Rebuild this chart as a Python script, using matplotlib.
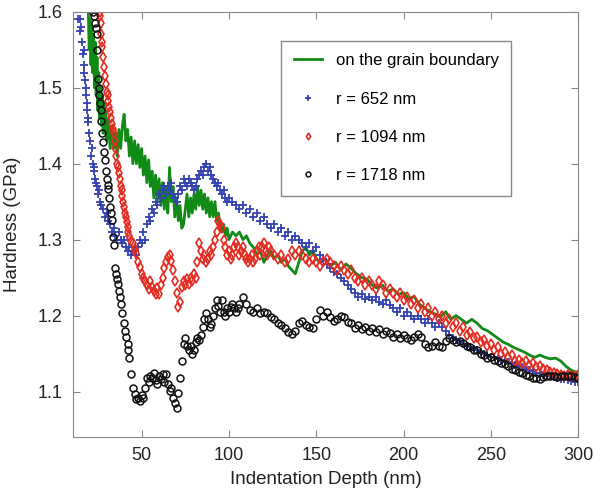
import matplotlib
matplotlib.use("Agg")
import matplotlib.pyplot as plt

plt.rcParams['font.family'] = ['Liberation Sans', 'DejaVu Sans']

# on the grain boundary (green line)
gb_depth = [19.5, 20.0, 20.5, 21.0, 21.5, 22.0, 22.5, 23.0, 23.5, 24.0, 24.5, 25.0, 25.5, 26.0, 26.5,
            27.0, 27.5, 28.0, 28.5, 29.0, 29.5, 30.0, 31.0, 32.0, 33.0, 34.0, 35.0, 36.0, 37.0, 38.0,
            39.0, 40.0, 41.0, 42.0, 43.0, 44.0, 45.0, 46.0, 47.0, 48.0, 49.0, 50.0, 51.0, 52.0, 53.0,
            54.0, 55.0, 56.0, 57.0, 58.0, 59.0, 60.0, 61.0, 62.0, 63.0, 64.0, 65.0, 66.0, 67.0, 68.0,
            69.0, 70.0, 71.0, 72.0, 73.0, 74.0, 75.0, 76.0, 77.0, 78.0, 79.0, 80.0, 81.0, 82.0, 83.0,
            84.0, 85.0, 86.0, 87.0, 88.0, 89.0, 90.0, 91.0, 92.0, 93.0, 94.0, 95.0, 96.0, 97.0, 98.0,
            99.0, 100, 102, 104, 106, 108, 110, 112, 114, 116, 118, 120, 122, 124, 126, 128, 130, 132,
            134, 136, 138, 140, 142, 144, 146, 148, 150, 152, 155, 158, 161, 164, 167, 170, 173, 176,
            179, 182, 185, 188, 191, 194, 197, 200, 203, 206, 209, 212, 215, 218, 221, 224, 227, 230,
            233, 236, 239, 242, 245, 248, 251, 254, 257, 260, 263, 266, 269, 272, 275, 278, 281, 284,
            287, 290, 293, 296, 299]
gb_hard = [1.60, 1.55, 1.59, 1.53, 1.58, 1.52, 1.57, 1.50, 1.56, 1.49, 1.54, 1.47, 1.52, 1.46, 1.50,
           1.45, 1.49, 1.44, 1.48, 1.44, 1.47, 1.43, 1.46, 1.42, 1.45, 1.42, 1.44, 1.41, 1.445, 1.42,
           1.45, 1.465, 1.43, 1.445, 1.41, 1.435, 1.40, 1.43, 1.40, 1.425, 1.395, 1.42, 1.385, 1.41, 1.375,
           1.405, 1.37, 1.39, 1.355, 1.385, 1.35, 1.38, 1.345, 1.375, 1.34, 1.37, 1.335, 1.395, 1.35, 1.37,
           1.33, 1.355, 1.325, 1.345, 1.315, 1.32, 1.34, 1.36, 1.33, 1.355, 1.335, 1.36, 1.34, 1.37, 1.345,
           1.365, 1.34, 1.36, 1.335, 1.355, 1.33, 1.35, 1.33, 1.35, 1.325, 1.335, 1.315, 1.31, 1.32, 1.305,
           1.315, 1.30, 1.31, 1.305, 1.31, 1.30, 1.305, 1.295, 1.29, 1.28, 1.285, 1.27, 1.28, 1.285, 1.275,
           1.28, 1.27, 1.275, 1.265, 1.26, 1.255, 1.27, 1.285, 1.29, 1.28, 1.285, 1.275, 1.27, 1.275, 1.265,
           1.27, 1.26, 1.268, 1.262, 1.255, 1.25, 1.248, 1.24, 1.236, 1.24, 1.232, 1.235, 1.228, 1.23, 1.222,
           1.225, 1.215, 1.21, 1.205, 1.202, 1.198, 1.205, 1.195, 1.20, 1.195, 1.19, 1.195, 1.19, 1.183,
           1.18, 1.175, 1.17, 1.165, 1.162, 1.158, 1.155, 1.152, 1.148, 1.145, 1.148, 1.145, 1.143, 1.144,
           1.14, 1.133, 1.128, 1.125]

# r = 652 nm (blue +)
r652_depth = [13.8, 14.5, 15.0, 15.5, 16.0, 16.5, 16.8, 17.0, 17.3, 17.6, 18.0, 18.3, 18.6, 19.0, 19.3,
              19.6, 20.0, 20.5, 21.0, 21.5, 22.0, 22.5, 23.0, 23.5, 24.0, 24.5, 25.0, 25.5, 26.0, 27.0,
              28.0, 29.0, 30.0, 31.0, 32.0, 33.0, 34.0, 35.0, 36.0, 37.0, 38.0, 39.0, 40.0, 41.0, 42.0,
              43.0, 44.0, 45.0, 46.0, 47.0, 48.0, 49.0, 50.0, 51.0, 52.0, 53.0, 54.0, 55.0, 56.0, 57.0,
              58.0, 59.0, 60.0, 61.0, 62.0, 63.0, 64.0, 65.0, 66.0, 67.0, 68.0, 69.0, 70.0, 71.0, 72.0,
              73.0, 74.0, 75.0, 76.0, 77.0, 78.0, 79.0, 80.0, 81.0, 82.0, 83.0, 84.0, 85.0, 86.0, 87.0,
              88.0, 89.0, 90.0, 91.0, 92.0, 93.0, 94.0, 95.0, 96.0, 97.0, 98.0, 99.0, 100, 102, 104,
              106, 108, 110, 112, 114, 116, 118, 120, 122, 124, 126, 128, 130, 132, 134, 136, 138, 140,
              142, 144, 146, 148, 150, 152, 154, 156, 158, 160, 162, 164, 166, 168, 170, 172, 174, 176,
              178, 180, 182, 184, 186, 188, 190, 192, 194, 196, 198, 200, 202, 204, 206, 208, 210, 212,
              214, 216, 218, 220, 222, 224, 226, 228, 230, 232, 234, 236, 238, 240, 242, 244, 246, 248,
              250, 252, 254, 256, 258, 260, 262, 264, 266, 268, 270, 272, 274, 276, 278, 280, 282, 284,
              286, 288, 290, 292, 294, 296, 298, 300]
r652_hard = [1.59, 1.59, 1.575, 1.58, 1.56, 1.545, 1.55, 1.53, 1.52, 1.51, 1.50, 1.49, 1.48, 1.47, 1.455,
             1.46, 1.44, 1.43, 1.41, 1.42, 1.40, 1.39, 1.395, 1.38, 1.375, 1.37, 1.36, 1.365, 1.35, 1.345,
             1.34, 1.33, 1.335, 1.325, 1.32, 1.31, 1.315, 1.305, 1.30, 1.31, 1.30, 1.295, 1.30, 1.29, 1.285,
             1.29, 1.28, 1.285, 1.29, 1.28, 1.29, 1.30, 1.295, 1.31, 1.30, 1.32, 1.33, 1.325, 1.34, 1.335,
             1.35, 1.345, 1.36, 1.355, 1.365, 1.37, 1.36, 1.37, 1.365, 1.375, 1.36, 1.355, 1.35, 1.36, 1.37,
             1.365, 1.38, 1.375, 1.37, 1.38, 1.375, 1.37, 1.365, 1.37, 1.38, 1.385, 1.39, 1.385, 1.395, 1.40,
             1.39, 1.395, 1.385, 1.38, 1.375, 1.37, 1.375, 1.365, 1.36, 1.365, 1.355, 1.35, 1.355, 1.35, 1.345,
             1.34, 1.345, 1.335, 1.34, 1.33, 1.335, 1.325, 1.33, 1.32, 1.315, 1.32, 1.31, 1.315, 1.305, 1.31,
             1.30, 1.305, 1.30, 1.295, 1.29, 1.295, 1.285, 1.29, 1.28, 1.275, 1.268, 1.262, 1.258, 1.255, 1.25,
             1.245, 1.24, 1.235, 1.23, 1.225, 1.228, 1.222, 1.225, 1.22, 1.224, 1.218, 1.215, 1.22, 1.214,
             1.21, 1.205, 1.21, 1.20, 1.205, 1.20, 1.195, 1.20, 1.195, 1.19, 1.195, 1.19, 1.185, 1.19, 1.185,
             1.18, 1.175, 1.17, 1.168, 1.165, 1.162, 1.16, 1.158, 1.156, 1.154, 1.152, 1.15, 1.148, 1.146,
             1.145, 1.143, 1.142, 1.14, 1.139, 1.138, 1.135, 1.133, 1.132, 1.13, 1.128, 1.127, 1.125, 1.124,
             1.122, 1.121, 1.12, 1.119, 1.118, 1.117, 1.116, 1.115, 1.114, 1.113, 1.112]

# r = 1094 nm (red diamonds)
r1094_depth = [26.0, 26.3, 26.6, 27.0, 27.3, 27.6, 28.0, 28.5, 29.0, 29.5, 30.0, 30.5, 31.0, 31.5, 32.0,
               32.5, 33.0, 33.5, 34.0, 34.5, 35.0, 35.5, 36.0, 36.5, 37.0, 37.5, 38.0, 38.5, 39.0, 39.5,
               40.0, 40.5, 41.0, 41.5, 42.0, 42.5, 43.0, 44.0, 45.0, 46.0, 47.0, 48.0, 49.0, 50.0, 51.0,
               52.0, 53.0, 54.0, 55.0, 56.0, 57.0, 58.0, 59.0, 60.0, 61.0, 62.0, 63.0, 64.0, 65.0, 66.0,
               67.0, 68.0, 69.0, 70.0, 71.0, 72.0, 73.0, 74.0, 75.0, 76.0, 77.0, 78.0, 79.0, 80.0, 81.0,
               82.0, 83.0, 84.0, 85.0, 86.0, 87.0, 88.0, 89.0, 90.0, 91.0, 92.0, 93.0, 94.0, 95.0, 96.0,
               97.0, 98.0, 99.0, 100, 101, 102, 103, 104, 105, 106, 107, 108, 109, 110, 111, 112, 113,
               114, 115, 116, 117, 118, 119, 120, 121, 122, 123, 124, 126, 128, 130, 132, 134, 136, 138,
               140, 142, 144, 146, 148, 150, 152, 154, 156, 158, 160, 162, 164, 166, 168, 170, 172, 174,
               176, 178, 180, 182, 184, 186, 188, 190, 192, 194, 196, 198, 200, 202, 204, 206, 208, 210,
               212, 214, 216, 218, 220, 222, 224, 226, 228, 230, 232, 234, 236, 238, 240, 242, 244, 246,
               248, 250, 252, 254, 256, 258, 260, 262, 264, 266, 268, 270, 272, 274, 276, 278, 280, 282,
               284, 286, 288, 290, 292, 294, 296, 298, 300]
r1094_hard = [1.60, 1.594, 1.585, 1.571, 1.56, 1.554, 1.54, 1.527, 1.515, 1.505, 1.495, 1.49, 1.482, 1.475,
              1.468, 1.46, 1.452, 1.445, 1.44, 1.43, 1.42, 1.41, 1.40, 1.395, 1.388, 1.38, 1.37, 1.365,
              1.358, 1.35, 1.343, 1.335, 1.33, 1.323, 1.317, 1.31, 1.305, 1.298, 1.295, 1.288, 1.282, 1.27,
              1.264, 1.255, 1.25, 1.246, 1.24, 1.235, 1.245, 1.238, 1.232, 1.229, 1.236, 1.229, 1.24, 1.25,
              1.262, 1.27, 1.277, 1.28, 1.272, 1.26, 1.245, 1.23, 1.211, 1.218, 1.237, 1.245, 1.24, 1.248,
              1.242, 1.25, 1.245, 1.255, 1.25, 1.27, 1.295, 1.285, 1.275, 1.28, 1.27, 1.275, 1.285, 1.28,
              1.29, 1.30, 1.31, 1.325, 1.32, 1.315, 1.30, 1.29, 1.28, 1.285, 1.275, 1.28, 1.29, 1.295, 1.29,
              1.28, 1.285, 1.29, 1.28, 1.275, 1.27, 1.275, 1.28, 1.27, 1.275, 1.285, 1.29, 1.28, 1.29, 1.295,
              1.285, 1.28, 1.29, 1.285, 1.28, 1.275, 1.28, 1.27, 1.275, 1.285, 1.28, 1.285, 1.28, 1.275, 1.27,
              1.275, 1.27, 1.265, 1.27, 1.275, 1.27, 1.265, 1.26, 1.265, 1.26, 1.255, 1.26, 1.25, 1.245, 1.25,
              1.24, 1.245, 1.24, 1.235, 1.245, 1.24, 1.23, 1.235, 1.23, 1.225, 1.23, 1.22, 1.225, 1.215, 1.22,
              1.21, 1.215, 1.205, 1.21, 1.20, 1.205, 1.195, 1.20, 1.19, 1.195, 1.185, 1.19, 1.18, 1.185, 1.175,
              1.178, 1.17, 1.172, 1.165, 1.168, 1.16, 1.162, 1.155, 1.158, 1.15, 1.152, 1.145, 1.148, 1.14,
              1.142, 1.138, 1.14, 1.135, 1.137, 1.132, 1.134, 1.13, 1.128, 1.126, 1.125, 1.123, 1.122, 1.12,
              1.122, 1.121, 1.12, 1.122]

# r = 1718 nm (black circles)
r1718_depth = [22.3, 22.8, 23.3, 23.8, 24.3, 24.6, 25.0, 25.4, 25.8, 26.2, 26.6, 27.0, 27.5, 28.0, 28.5,
               29.0, 29.5, 30.0, 30.5, 31.0, 31.5, 32.0, 32.5, 33.0, 33.6, 34.2, 34.8, 35.4, 36.0, 36.4,
               37.0, 37.6, 38.2, 39.0, 39.7, 40.4, 41.2, 42.0, 42.5, 43.0, 44.0, 45.0, 46.0, 47.0, 48.0,
               49.0, 50.0, 51.0, 52.0, 53.0, 54.0, 55.0, 56.0, 57.0, 58.0, 59.0, 60.0, 61.0, 62.0, 63.0,
               64.0, 65.0, 66.0, 67.0, 68.0, 69.0, 70.0, 71.0, 72.0, 73.0, 74.0, 75.0, 76.0, 77.0, 78.0,
               79.0, 80.0, 81.0, 82.0, 83.0, 84.0, 85.0, 86.0, 87.0, 88.0, 89.0, 90.0, 91.0, 92.0, 93.0,
               94.0, 95.0, 96.0, 97.0, 98.0, 99.0, 100, 101, 102, 103, 104, 105, 106, 108, 110, 112, 114,
               116, 118, 120, 122, 124, 126, 128, 130, 132, 134, 136, 138, 140, 142, 144, 146, 148, 150,
               152, 154, 156, 158, 160, 162, 164, 166, 168, 170, 172, 174, 176, 178, 180, 182, 184, 186,
               188, 190, 192, 194, 196, 198, 200, 202, 204, 206, 208, 210, 212, 214, 216, 218, 220, 222,
               224, 226, 228, 230, 232, 234, 236, 238, 240, 242, 244, 246, 248, 250, 252, 254, 256, 258,
               260, 262, 264, 266, 268, 270, 272, 274, 276, 278, 280, 282, 284, 286, 288, 290, 292, 294,
               296, 298, 300]
r1718_hard = [1.60, 1.595, 1.585, 1.578, 1.571, 1.55, 1.511, 1.50, 1.49, 1.48, 1.47, 1.456, 1.44, 1.428, 1.415,
              1.405, 1.39, 1.38, 1.372, 1.366, 1.355, 1.343, 1.335, 1.326, 1.303, 1.293, 1.262, 1.255, 1.248, 1.242,
              1.232, 1.224, 1.215, 1.203, 1.19, 1.18, 1.172, 1.163, 1.155, 1.144, 1.123, 1.105, 1.097, 1.09, 1.092,
              1.088, 1.095, 1.091, 1.105, 1.118, 1.112, 1.12, 1.118, 1.125, 1.115, 1.11, 1.12, 1.116, 1.123, 1.112,
              1.123, 1.11, 1.101, 1.105, 1.092, 1.085, 1.078, 1.098, 1.118, 1.14, 1.163, 1.171, 1.16, 1.155, 1.16,
              1.15, 1.154, 1.165, 1.171, 1.168, 1.175, 1.185, 1.195, 1.203, 1.195, 1.185, 1.189, 1.20, 1.21, 1.22,
              1.212, 1.205, 1.22, 1.205, 1.20, 1.21, 1.205, 1.211, 1.215, 1.21, 1.205, 1.21, 1.215, 1.224, 1.215,
              1.207, 1.205,
              1.21, 1.203, 1.205, 1.203, 1.198, 1.195, 1.19, 1.188, 1.184, 1.178, 1.176, 1.18, 1.19, 1.193, 1.188,
              1.185, 1.184, 1.195,
              1.207, 1.20, 1.205, 1.198, 1.193, 1.195, 1.20, 1.198, 1.192, 1.19, 1.184, 1.188, 1.182, 1.185, 1.18,
              1.183, 1.178, 1.182,
              1.176, 1.18, 1.177, 1.172, 1.176, 1.17, 1.174, 1.171, 1.168, 1.172, 1.176, 1.172, 1.163, 1.158, 1.16,
              1.165, 1.16, 1.158,
              1.167, 1.171, 1.168, 1.165, 1.167, 1.164, 1.16, 1.158, 1.155, 1.154, 1.15, 1.148, 1.144, 1.146, 1.142,
              1.14, 1.138, 1.136,
              1.134, 1.13, 1.128, 1.126, 1.124, 1.122, 1.12, 1.118, 1.118, 1.116, 1.119, 1.12, 1.121, 1.12, 1.119,
              1.12, 1.121, 1.12,
              1.12, 1.119, 1.118]

fig = plt.figure(figsize=(5.95, 4.9), dpi=100)
ax = fig.add_axes([0.122, 0.108, 0.850, 0.868])

ax.plot(gb_depth, gb_hard, color='#118a16', lw=2.0, label='on the grain boundary')
ax.plot(r652_depth, r652_hard, ls='none', marker='+', ms=6, mew=1.3, color='#3441b0',
        label='r = 652 nm')
ax.plot(r1094_depth, r1094_hard, ls='none', marker='d', ms=5, mew=1.2, mfc='none', color='#e32c22',
        label='r = 1094 nm')
ax.plot(r1718_depth, r1718_hard, ls='none', marker='o', ms=5, mew=1.1, mfc='none', color='#111111',
        label='r = 1718 nm')

ax.set_xlim(10.5, 300)
ax.set_ylim(1.04, 1.6)
ax.set_xticks([50, 100, 150, 200, 250, 300])
ax.set_yticks([1.1, 1.2, 1.3, 1.4, 1.5, 1.6])
ax.tick_params(direction='in', top=True, right=True, length=5, color='#888888', labelsize=13,
               labelcolor='#222222', pad=7)
for sp in ax.spines.values():
    sp.set_color('#888888')
ax.set_xlabel('Indentation Depth (nm)', fontsize=13.5, color='#222222', labelpad=5)
ax.set_ylabel('Hardness (GPa)', fontsize=13.5, color='#222222', labelpad=12)

leg = ax.legend(loc='upper left', bbox_to_anchor=(0.413, 0.932), borderaxespad=0, numpoints=1,
                markerscale=0.7, fontsize=12, labelspacing=1.4, handlelength=1.7,
                handletextpad=0.8, borderpad=0.75, fancybox=False, framealpha=1,
                edgecolor='#888888')

fig.savefig('out.png', dpi=100)
